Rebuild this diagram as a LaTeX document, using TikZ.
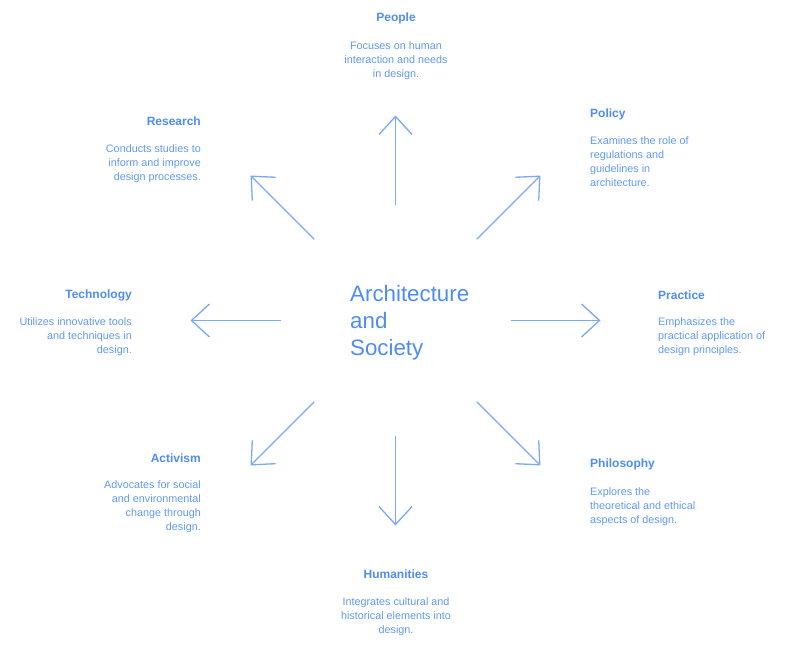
\documentclass[tikz,border=0pt]{standalone}
\usepackage{fontspec}
\setmainfont{Liberation Sans}
\usepackage{xcolor}
\usetikzlibrary{arrows.meta,positioning}

\definecolor{headblue}{RGB}{78,140,245}
\definecolor{textblue}{RGB}{96,153,246}
\definecolor{arrowblue}{RGB}{122,168,250}

\tikzset{
  head/.style={font=\fontsize{12}{14}\selectfont\bfseries, text=headblue, inner sep=0pt},
  desc/.style={font=\fontsize{10.8}{14}\selectfont, text=textblue, inner sep=0pt},
  link/.style={draw=arrowblue, line width=1.3pt, -{Straight Barb[length=18pt,width=33pt,line width=1.3pt]}}
}

\begin{document}
\begin{tikzpicture}[x=1pt,y=-1pt]
 \useasboundingbox (0,0) rectangle (787,647);

 % centre
 \coordinate (hub) at (395.5,320.5);
 \node[anchor=north west, inner sep=0pt, align=left, text=headblue,
       font=\fontsize{22.3}{27}\selectfont] (topic) at (350,285) {Architecture\\and\\Society};

 % arrows
 \foreach \a in {0,45,...,315}
  \draw[link] (hub) ++(\a:115) -- ++(\a:90);

 % top
 \node[head] (people) at (396,18) {People};
 \node[desc, anchor=north, align=center] (people-txt) at (396,41.5)
  {Focuses on human\\interaction and needs\\in design.};

 \node[head, anchor=east] (research) at (201,121) {Research};
 \node[desc, anchor=north east, align=right] (research-txt) at (201,144.5)
  {Conducts studies to\\inform and improve\\design processes.};

 \node[head, anchor=west] (policy) at (590,114) {Policy};
 \node[desc, anchor=north west, align=left] (policy-txt) at (590,136.5)
  {Examines the role of\\regulations and\\guidelines in\\architecture.};

 % middle
 \node[head, anchor=east] (technology) at (132,295.5) {Technology};
 \node[desc, anchor=north east, align=right] (technology-txt) at (132,317.5)
  {Utilizes innovative tools\\and techniques in\\design.};

 \node[head, anchor=west] (practice) at (658,295.5) {Practice};
 \node[desc, anchor=north west, align=left] (practice-txt) at (658,317.5)
  {Emphasizes the\\practical application of\\design principles.};

 % bottom
 \node[head, anchor=east] (activism) at (201,458) {Activism};
 \node[desc, anchor=north east, align=right] (activism-txt) at (201,480.5)
  {Advocates for social\\and environmental\\change through\\design.};

 \node[head, anchor=west] (philosophy) at (590,464) {Philosophy};
 \node[desc, anchor=north west, align=left] (philosophy-txt) at (590,487.5)
  {Explores the\\theoretical and ethical\\aspects of design.};

 \node[head] (humanities) at (396,574) {Humanities};
 \node[desc, anchor=north, align=center] (humanities-txt) at (396,597.5)
  {Integrates cultural and\\historical elements into\\design.};
\end{tikzpicture}
\end{document}
